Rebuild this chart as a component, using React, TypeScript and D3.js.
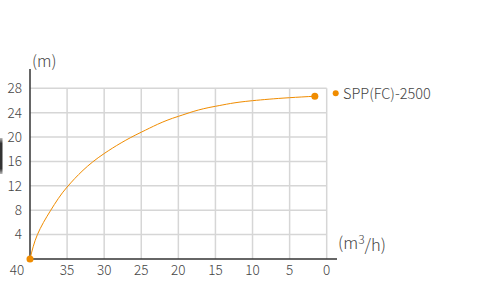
import React from "react";
import * as d3 from "d3";

const flows = [40, 39, 37.2, 35, 30, 25, 20, 15, 10, 5, 1.6];
const heads = [0, 4, 8, 11.8, 17.3, 20.8, 23.4, 25.05, 25.97, 26.46, 26.7];
const xTicks = [40, 35, 30, 25, 20, 15, 10, 5, 0];
const yTicks = [4, 8, 12, 16, 20, 24, 28];
const seriesName = "SPP(FC)-2500";

const FONT = "'Noto Sans CJK JP', 'Noto Sans', sans-serif";
const ORANGE = "#f08c00";

export default function App() {
  const x = d3.scaleLinear().domain([40, 0]).range([30, 326.7]);
  const y = d3.scaleLinear().domain([0, 28]).range([259, 88.3]);
  const pts: [number, number][] = flows.map((f, i) => [x(f), y(heads[i])]);
  const line = d3.line<[number, number]>().x(d => d[0]).y(d => d[1]).curve(d3.curveMonotoneY);
  const first = pts[0];
  const last = pts[pts.length - 1];
  return (
    <svg width={483} height={289} style={{ position: "absolute", left: 0, top: 0 }}>
      <defs>
        <linearGradient id="bar" x1="0" y1="0" x2="0" y2="1">
          <stop offset="0" stopColor="#bbb" />
          <stop offset="0.15" stopColor="#333" />
          <stop offset="0.85" stopColor="#333" />
          <stop offset="1" stopColor="#bbb" />
        </linearGradient>
      </defs>
      <rect width={483} height={289} fill="#fff" />
      <rect x={0} y={138} width={2.5} height={36} fill="url(#bar)" />
      {xTicks.slice(1).map(t => (
        <line key={"vx" + t} x1={x(t)} x2={x(t)} y1={y(28)} y2={y(0)} stroke="#d6d6d6" strokeWidth={1.5} />
      ))}
      {yTicks.map(t => (
        <line key={"hy" + t} x1={x(40)} x2={x(0)} y1={y(t)} y2={y(t)} stroke="#d6d6d6" strokeWidth={1.5} />
      ))}
      <line x1={30} x2={30} y1={69} y2={259.7} stroke="#333" strokeWidth={1.5} />
      <line x1={29.3} x2={337} y1={259} y2={259} stroke="#333" strokeWidth={1.5} />
      {yTicks.map(t => (
        <text key={"yl" + t} x={22} y={y(t)} dy="0.36em" textAnchor="end" fontSize={13.5} fontWeight={300} fill="#444" fontFamily={FONT}>{t}</text>
      ))}
      {xTicks.map(t => (
        <text key={"xl" + t} x={t === 40 ? 17 : x(t)} y={270} dy="0.36em" textAnchor="middle" fontSize={13.5} fontWeight={300} fill="#444" fontFamily={FONT}>{t}</text>
      ))}
      <text x={32} y={61.5} dy="0.36em" fontSize={16} fontWeight={300} fill="#444" fontFamily={FONT}>(m)</text>
      <text x={338} y={243} dy="0.36em" fontSize={16.5} fontWeight={300} fill="#444" fontFamily={FONT}>
        (m<tspan dy="-0.45em" fontSize={12}>3</tspan><tspan dy="0.45em">/h)</tspan>
      </text>
      <path d={line(pts) || ""} fill="none" stroke={ORANGE} strokeWidth={1} />
      <circle cx={first[0]} cy={first[1]} r={3.5} fill={ORANGE} />
      <circle cx={last[0]} cy={last[1]} r={3.5} fill={ORANGE} />
      <circle cx={335.7} cy={93.3} r={3} fill={ORANGE} />
      <text x={343} y={93.3} dy="0.36em" fontSize={14.5} fontWeight={300} fill="#444" fontFamily={FONT}>{seriesName}</text>
    </svg>
  );
}
